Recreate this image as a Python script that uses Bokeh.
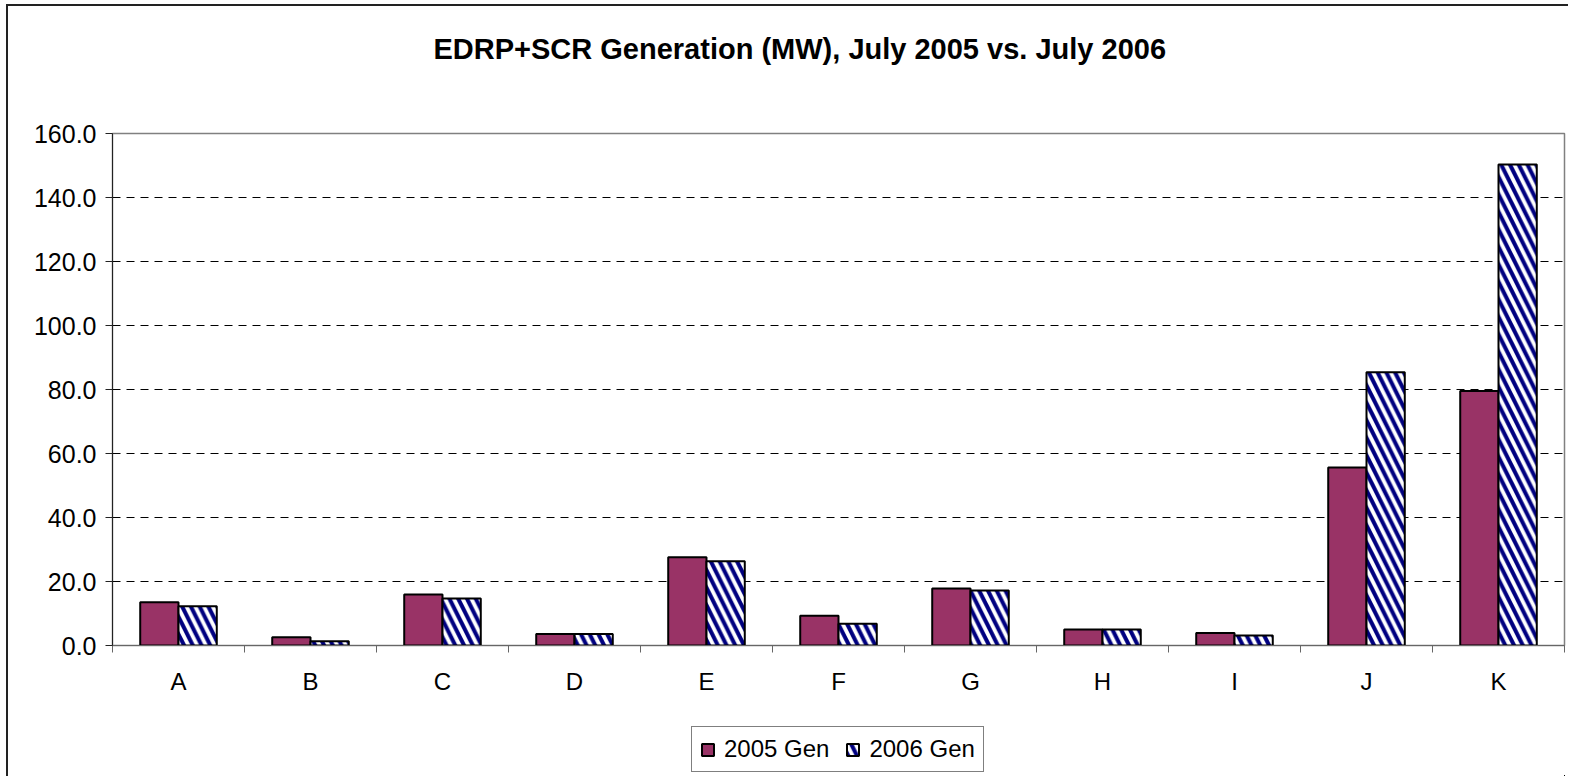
from bokeh.plotting import figure
from bokeh.layouts import column
from bokeh.models import (FixedTicker, NumeralTickFormatter, Legend, LegendItem,
                          Title, Range1d)
from bokeh.embed import file_html
from bokeh.resources import INLINE

# ---- data ----
categories = ["A", "B", "C", "D", "E", "F", "G", "H", "I", "J", "K"]
gen_2005 = [13.5, 2.6, 15.9, 3.6, 27.6, 9.3, 17.8, 5.0, 3.9, 55.6, 79.5]
gen_2006 = [12.3, 1.3, 14.7, 3.6, 26.3, 6.8, 17.2, 5.0, 3.1, 85.4, 150.3]
series_names = ["2005 Gen", "2006 Gen"]
y_ticks = [0, 20, 40, 60, 80, 100, 120, 140, 160]
title_text = "EDRP+SCR Generation (MW), July 2005 vs. July 2006"

FONT = "Liberation Sans"
n = len(categories)
centers = [i + 0.5 for i in range(n)]
bounds = [float(i) for i in range(n + 1)]
bar_w = 0.29
x05 = [c - bar_w / 2 for c in centers]
x06 = [c + bar_w / 2 for c in centers]

style_05 = dict(fill_color="#993366", line_color="black", line_width=2)
style_06 = dict(fill_color="white", hatch_pattern="\\", hatch_color="#000080",
                hatch_scale=17.5, hatch_weight=4, line_color="black", line_width=2)

p = figure(frame_width=1452, frame_height=512,
           min_border_left=104, min_border_right=4,
           min_border_top=127, min_border_bottom=75,
           x_range=Range1d(0, n), y_range=Range1d(0, 160),
           output_backend="svg", toolbar_location=None, title=None)
p.background_fill_color = "white"
p.border_fill_color = "white"
p.outline_line_color = "#808080"
p.outline_line_width = 1.5

# spacer between frame and title, then the title itself
p.add_layout(Title(text=" ", text_font_size="1px", standoff=61), "above")
t = Title(text=title_text, text_font=FONT, text_font_size="29px",
          text_font_style="bold", text_color="black", align="left",
          offset=321, standoff=10)
p.add_layout(t, "above")

p.vbar(x=x05, top=gen_2005, bottom=0, width=bar_w, **style_05)
p.vbar(x=x06, top=gen_2006, bottom=0, width=bar_w, **style_06)

# y axis
p.yaxis.ticker = FixedTicker(ticks=y_ticks)
p.yaxis.formatter = NumeralTickFormatter(format="0.0")
p.yaxis.major_label_text_font = FONT
p.yaxis.major_label_text_font_size = "25px"
p.yaxis.major_label_text_color = "black"
p.yaxis.major_tick_out = 7
p.yaxis.major_tick_in = 0
p.yaxis.minor_tick_line_color = None
p.yaxis.major_tick_line_color = "#222"
p.yaxis.axis_line_color = "#222"
p.yaxis.major_label_standoff = 9

# x axis
p.xaxis.ticker = FixedTicker(ticks=centers, minor_ticks=bounds)
p.xaxis.major_label_overrides = {c: lab for c, lab in zip(centers, categories)}
p.xaxis.major_label_text_font = FONT
p.xaxis.major_label_text_font_size = "24px"
p.xaxis.major_label_text_color = "black"
p.xaxis.major_tick_line_color = None
p.xaxis.major_tick_out = 7
p.xaxis.major_tick_in = 0
p.xaxis.minor_tick_out = 7
p.xaxis.minor_tick_in = 0
p.xaxis.minor_tick_line_color = "#666"
p.xaxis.axis_line_color = "#666"
p.xaxis.major_label_standoff = 15

# grid
p.xgrid.visible = False
p.ygrid.ticker = FixedTicker(ticks=y_ticks[1:-1])
p.ygrid.grid_line_color = "black"
p.ygrid.grid_line_dash = "8 6"
p.ygrid.grid_line_width = 1

# ---- legend strip (separate figure so the legend sits inside a frame) ----
p2 = figure(width=1560, height=56, min_border=0,
            x_range=Range1d(-2 * n, -n), y_range=Range1d(1000, 1001),
            output_backend="svg", toolbar_location=None, title=None)
p2.axis.visible = False
p2.grid.visible = False
p2.outline_line_color = None
p2.background_fill_color = "white"
p2.border_fill_color = "white"
# same series, drawn out of this strip's view; only their legend glyphs show
k05 = p2.vbar(x=x05, top=gen_2005, bottom=0, width=bar_w, **style_05)
k06 = p2.vbar(x=x06, top=gen_2006, bottom=0, width=bar_w, **style_06)

legend = Legend(items=[LegendItem(label=series_names[0], renderers=[k05]),
                       LegendItem(label=series_names[1], renderers=[k06])],
                orientation="horizontal", location=(579, 4), margin=0,
                padding=8, spacing=16, label_standoff=9,
                glyph_width=15, glyph_height=15,
                border_line_color="black", border_line_width=1,
                label_text_font=FONT, label_text_font_size="24px",
                label_text_color="black", background_fill_color="white",
                background_fill_alpha=1)
p2.add_layout(legend, "center")

layout = column(p, p2, spacing=0,
                styles={"border-left": "2px solid #222", "border-top": "2px solid #222",
                        "margin-left": "6px", "margin-top": "4px"})

open("out.html", "w").write(file_html(layout, INLINE))
